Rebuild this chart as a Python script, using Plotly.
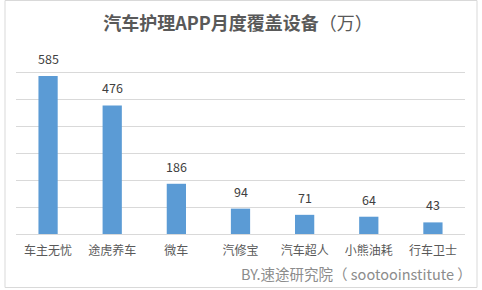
import plotly.graph_objects as go

categories = ["车主无忧", "途虎养车", "微车", "汽修宝", "汽车超人", "小熊油耗", "行车卫士"]
values = [585, 476, 186, 94, 71, 64, 43]
title_main = "汽车护理APP月度覆盖设备"
title_unit = "（万）"
footer_text = "BY.速途研究院（ sootooinstitute ）"

W, H = 482, 290
L, R, T, B = 16, 17, 45, 56
pw, ph = W - L - R, H - T - B

def px_x(x):
    return (x - L) / pw

def px_y(y):
    return (H - B - y) / ph

font = "Noto Sans CJK SC, Microsoft YaHei, sans-serif"

fig = go.Figure()
fig.add_trace(go.Bar(x=categories, y=values, marker_color="#5B9BD5",
                     marker_line_width=0, hoverinfo="skip"))

for c, v in zip(categories, values):
    fig.add_annotation(x=c, y=v, text=str(v), showarrow=False,
                       yanchor="bottom", yshift=6,
                       font=dict(family=font, size=12.5, color="#404040"))

fig.add_annotation(xref="paper", yref="paper", x=px_x(474), y=px_y(273),
                   xanchor="right", yanchor="middle", text=footer_text,
                   showarrow=False, font=dict(family=font, size=14.5, color="#8c8c8c"))

fig.add_shape(type="rect", xref="paper", yref="paper",
              x0=px_x(5), x1=px_x(477), y0=px_y(287.5), y1=px_y(0.5),
              line=dict(color="#D9D9D9", width=1), layer="below")

fig.update_layout(
    width=W, height=H,
    margin=dict(l=L, r=R, t=T, b=B, pad=0),
    paper_bgcolor="white", plot_bgcolor="white",
    bargap=0.7,
    showlegend=False,
    title=dict(text="<b>" + title_main + "</b>" + title_unit, x=238 / W, xanchor="center",
               y=1 - 24 / H, yanchor="middle", yref="container",
               font=dict(family=font, size=18, color="#595959")),
    xaxis=dict(showgrid=False, showline=True, linecolor="#D9D9D9", linewidth=1,
               ticks="", ticklabelstandoff=6,
               tickfont=dict(family=font, size=12, color="#595959"),
               fixedrange=True),
    yaxis=dict(range=[0, 700], dtick=100, showgrid=True, gridcolor="#D9D9D9",
               gridwidth=1, showticklabels=False, zeroline=False, fixedrange=True),
)

fig.write_html("out.html", config={"displayModeBar": False})
